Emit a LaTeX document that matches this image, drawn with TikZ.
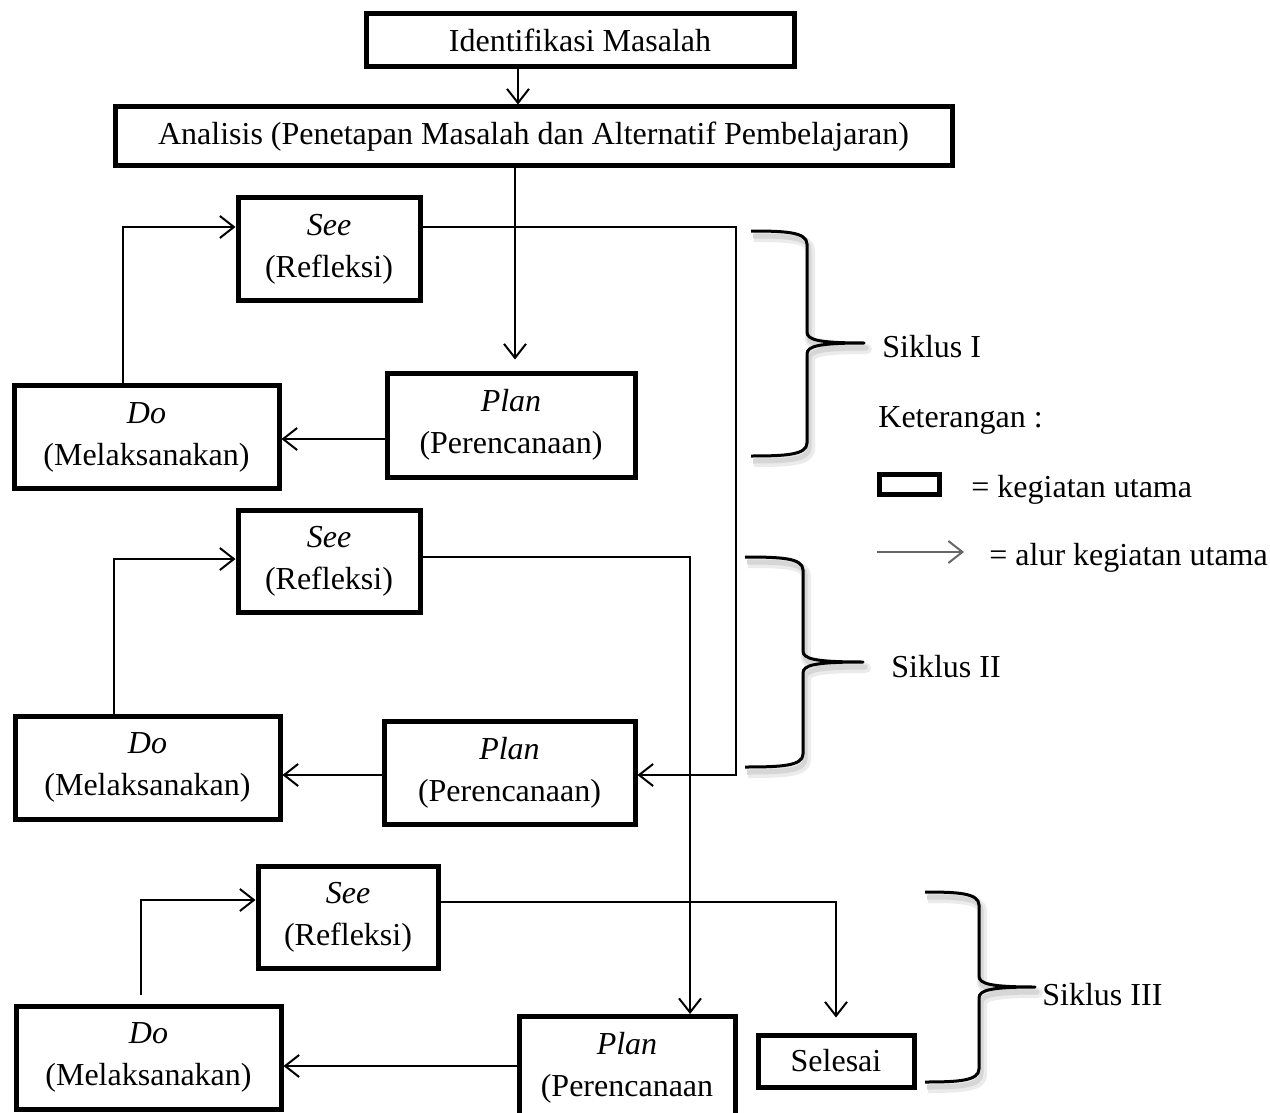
\documentclass[tikz,border=0pt]{standalone}
\usepackage{fontspec}
\setmainfont{Liberation Serif}
\usetikzlibrary{arrows.meta}
\newcommand\bracepath[6]{%
  (#1,#4) .. controls (#2-22,#4) and (#2,#4+1) .. (#2,#4+13)
  -- (#2,#5-11) .. controls (#2,#5-3) and (#2+12,#5) .. (#3,#5)
  .. controls (#2+12,#5) and (#2,#5+3) .. (#2,#5+11)
  -- (#2,#6-13) .. controls (#2,#6-1) and (#2-22,#6) .. (#1,#6)}
\newcommand\sikbrace[6]{%
  \draw[black!8, line width=5pt, line join=round, shift={(3,6)}] \bracepath{#1}{#2}{#3}{#4}{#5}{#6};
  \draw[black!16, line width=2.5pt, line join=round, shift={(2,5)}] \bracepath{#1}{#2}{#3}{#4}{#5}{#6};
  \draw[black, line width=1.5pt, line join=round] \bracepath{#1}{#2}{#3}{#4}{#5}{#6};}
\begin{document}
\begin{tikzpicture}[x=0.5pt,y=-0.5pt,
  every node/.style={font=\fontsize{16}{21}\selectfont, inner sep=0pt},
  box/.style={draw, line width=2.5pt, align=center, fill=white},
  arr/.style={-{Straight Barb[length=7pt,width=11pt]}, line width=1pt},
  lab/.style={anchor=base west}]
\useasboundingbox (0,0) rectangle (1270,1113);
\clip (0,0) rectangle (1270,1113);

% boxes
\node[box, minimum width=214pt, minimum height=26.5pt] (id) at (580,40.5) {Identifikasi Masalah};
\node[box, minimum width=418.5pt, minimum height=29.5pt] (an) at (533.5,136.5) {Analisis (Penetapan Masalah dan Alternatif Pembelajaran)};

\node[box, minimum width=91pt, minimum height=51pt] (s1) at (329,249) {\textit{See}\\(Refleksi)};
\node[box, minimum width=124pt, minimum height=52pt] (p1) at (511,425) {\textit{Plan}\\(Perencanaan)};
\node[box, minimum width=132.5pt, minimum height=51.5pt] (d1) at (146.5,437) {\textit{Do}\\(Melaksanakan)};

\node[box, minimum width=91pt, minimum height=51pt] (s2) at (329,561) {\textit{See}\\(Refleksi)};
\node[box, minimum width=125.5pt, minimum height=51.5pt] (p2) at (509.5,772.5) {\textit{Plan}\\(Perencanaan)};
\node[box, minimum width=132.5pt, minimum height=51.5pt] (d2) at (147.5,767.5) {\textit{Do}\\(Melaksanakan)};

\node[box, minimum width=90pt, minimum height=51pt] (s3) at (348,917) {\textit{See}\\(Refleksi)};
\node[box, minimum width=108pt, minimum height=51.5pt] (p3) at (627,1068) {\textit{Plan}\\(Perencanaan};
\node[box, minimum width=132.5pt, minimum height=51.5pt] (d3) at (148.5,1057.5) {\textit{Do}\\(Melaksanakan)};
\node[box, minimum width=78pt, minimum height=26pt] (sel) at (836,1061) {Selesai};

% connectors
\draw[arr] (518,0 |- id.south) -- (518,0 |- an.north);
\draw[arr, shorten >=5.5pt] (515,0 |- an.south) -- (515,0 |- p1.north);
\draw[arr] (p1.west |- 0,439) -- (d1.east |- 0,439);
\draw[arr] (123,0 |- d1.north) |- (s1.west |- 0,227);
\draw[arr] (s1.east |- 0,227) -| (736,775) -- (p2.east |- 0,775);

\draw[arr] (p2.west |- 0,775) -- (d2.east |- 0,775);
\draw[arr] (114,0 |- d2.north) |- (s2.west |- 0,559);
\draw[arr] (s2.east |- 0,557) -| (690,0 |- p3.north);

\draw[arr] (p3.west |- 0,1066) -- (d3.east |- 0,1066);
\draw[arr, shorten <=4.5pt] (141,0 |- d3.north) |- (s3.west |- 0,900);
\draw[arr, shorten >=7.5pt] (s3.east |- 0,902) -| (sel.north);

% braces
\sikbrace{751}{807}{864}{231}{343}{456}
\sikbrace{745}{803}{863}{557}{662}{767}
\sikbrace{925}{979}{1035}{892}{987}{1082}

% labels
\node[lab] (sk1) at (882,357) {Siklus I};
\node[lab] (sk2) at (891,677) {Siklus II};
\node[lab] (sk3) at (1042,1005) {Siklus III};

% legend
\node[lab] (ket) at (878,427) {Keterangan :};
\node[box, minimum width=30pt, minimum height=10pt] (lbox) at (909,484) {};
\node[lab] (ku) at (971,497) {= kegiatan utama};
\coordinate (la) at (877,552);
\coordinate (lb) at (964,552);
\draw[arr, draw=black!60] (la) -- (lb);
\node[lab] (au) at (989,565) {= alur kegiatan utama};
\end{tikzpicture}
\end{document}
